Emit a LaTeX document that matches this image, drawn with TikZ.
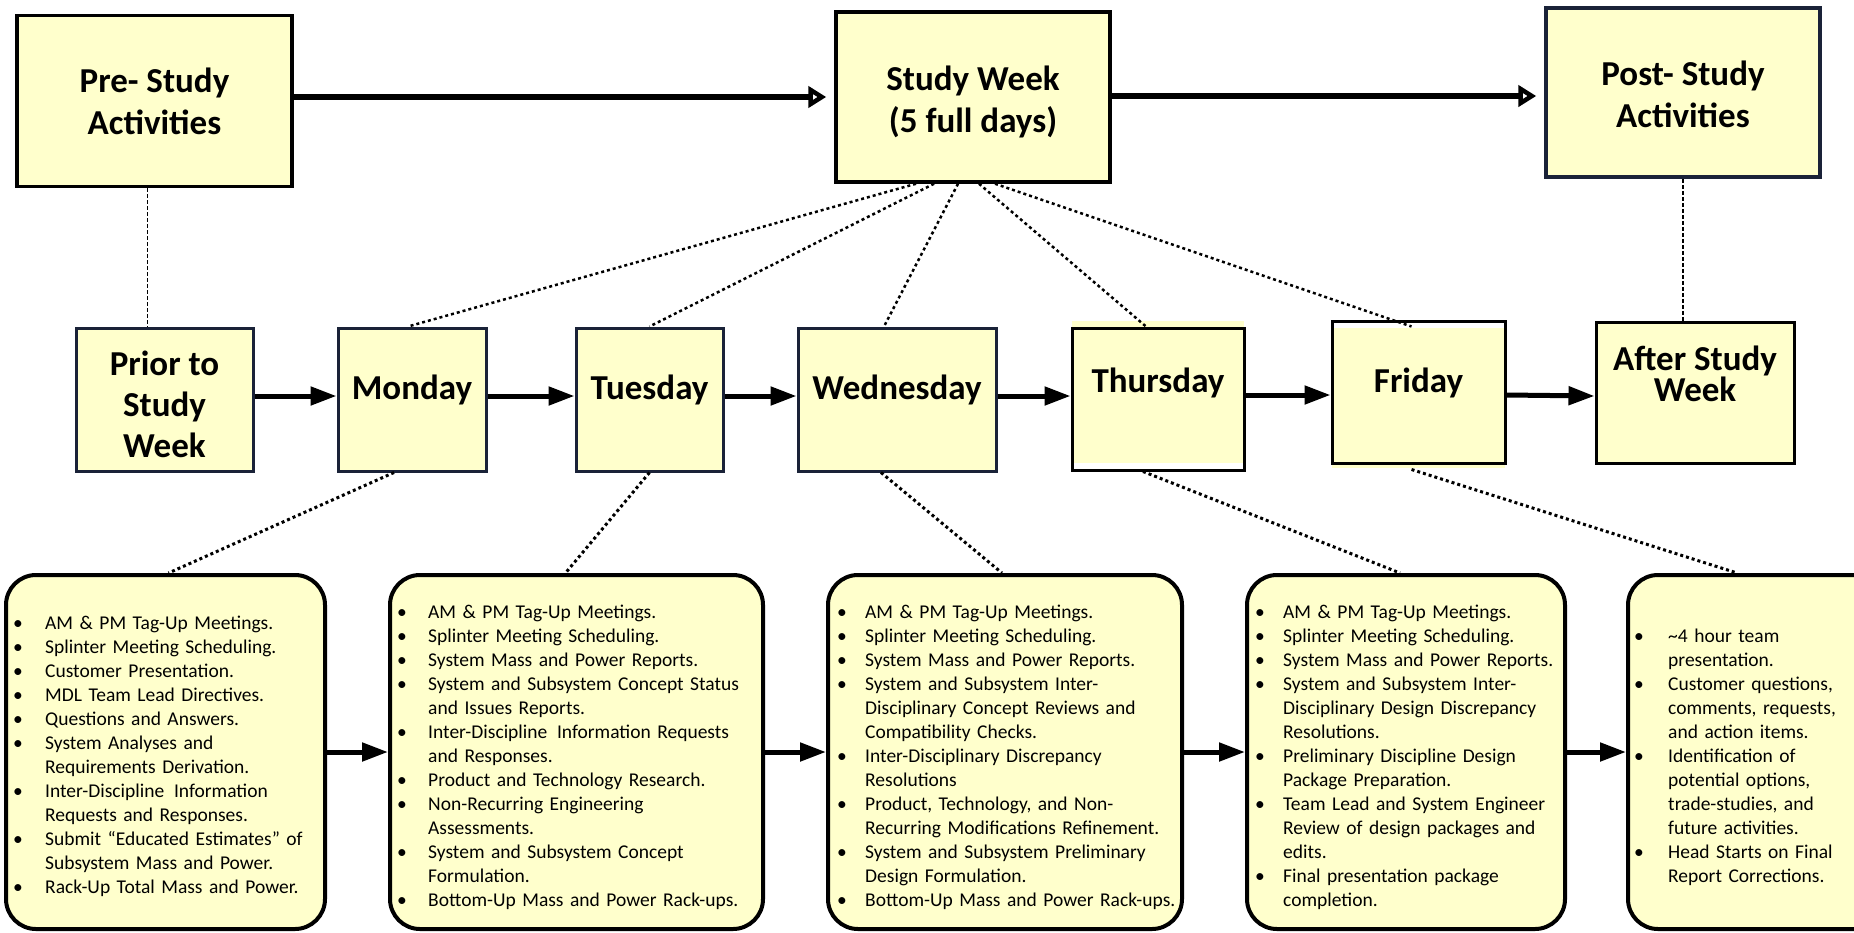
\documentclass[tikz,border=0pt]{standalone}
\usepackage{fontspec}
\setmainfont{Carlito}
\usetikzlibrary{arrows.meta}
\definecolor{boxfill}{RGB}{255,255,204}
\definecolor{edgenavy}{RGB}{26,34,56}
% bullet list item with a hanging indent of \bulind; \nl breaks a line inside an item
\newlength{\bulind}
\newcommand{\bitem}[1]{\par\hangindent=\bulind\hangafter=1\noindent\makebox[\bulind][l]{\textbullet}#1}
\newcommand{\nl}{\hfil\break}

\begin{document}
\begin{tikzpicture}[x=1pt,y=-1pt,
  phasebox/.style={draw=black, line width=3.5pt, fill=boxfill, inner sep=0pt},
  daybox/.style={draw=black, line width=3pt, fill=boxfill, inner sep=0pt},
  listbox/.style={draw=black, line width=4pt, fill=boxfill, rounded corners=30pt, inner sep=0pt},
  title/.style={font=\fontsize{35}{42}\selectfont\bfseries, align=center, inner sep=0pt},
  listtext/.style={anchor=west, inner sep=0pt, text width=380pt, align=left,
                   font=\fontsize{19.5}{24}\selectfont},
  flow/.style={line width=5pt, -{Triangle[length=26pt,width=18pt]}},
  bigflow/.style={line width=6.5pt, shorten >=8pt,
                  -{Triangle[open,length=18pt,width=21pt,line width=4.5pt]}},
  fan/.style={line width=2.5pt, dash pattern=on 3pt off 3pt},
  link/.style={line width=1.5pt, dash pattern=on 4pt off 2pt}]
\useasboundingbox (0,0) rectangle (1854,932);
\clip (0,0) rectangle (1854,932);

% ---- phases ----
\node[phasebox, minimum width=275pt, minimum height=171pt] (pre)  at (154.5,101) {};
\node[phasebox, minimum width=274pt, minimum height=170pt] (sw)   at (973,97) {};
\node[phasebox, draw=edgenavy, minimum width=274pt, minimum height=169pt] (post) at (1683,92.5) {};
\node[title] (pre-t)  at (154.5,101.5) {Pre- Study\\Activities};
\node[title] (sw-t)   at (973,101.5)   {Study Week\\(5 full days)};
\node[title] (post-t) at (1683,94)     {Post- Study\\Activities};

% ---- days ----
\fill[boxfill] (1072,321) rectangle (1244,463);
\fill[boxfill] (1332,328) rectangle (1505,468);
\node[daybox, draw=edgenavy, minimum width=177pt, minimum height=143pt] (prior) at (164.5,399.5) {};
\node[daybox, draw=edgenavy, minimum width=148pt, minimum height=143pt] (mon)   at (412,399.5) {};
\node[daybox, draw=edgenavy, minimum width=147pt, minimum height=143pt] (tue)   at (649.5,399.5) {};
\node[daybox, draw=edgenavy, minimum width=198pt, minimum height=143pt] (wed)   at (897,399.5) {};
\node[daybox, fill=none, minimum width=172pt, minimum height=142pt] (thu)   at (1158,399) {};
\node[daybox, fill=none, minimum width=173pt, minimum height=142pt] (fri)   at (1418.5,392) {};
\node[daybox, minimum width=198pt, minimum height=141pt] (after) at (1695,392.5) {};
\node[title, font=\fontsize{35}{41}\selectfont\bfseries] (prior-t) at (164.5,404) {Prior to\\Study\\Week};
\node[title] (mon-t) at (412,390) {Monday};
\node[title] (tue-t) at (649.5,390) {Tuesday};
\node[title] (wed-t) at (897,390) {Wednesday};
\node[title] (thu-t) at (1158,383) {Thursday};
\node[title] (fri-t) at (1418.5,383) {Friday};
\node[title, font=\fontsize{35}{31}\selectfont\bfseries] (after-t) at (1695,374) {After Study\\Week};

% ---- daily activity lists ----
\node[listbox, minimum width=319pt, minimum height=354pt] (l1) at (165.5,752) {};
\node[listbox, minimum width=373pt, minimum height=354pt] (l2) at (576.5,752) {};
\node[listbox, minimum width=354pt, minimum height=354pt] (l3) at (1005,752) {};
\node[listbox, minimum width=318pt, minimum height=354pt] (l4) at (1406,752) {};
\node[listbox, minimum width=272pt, minimum height=354pt] (l5) at (1764,752) {};

\node[listtext] (l1-t) at (13,751) {\setlength{\bulind}{32pt}%
\bitem{AM \& PM Tag-Up Meetings.}
\bitem{Splinter Meeting Scheduling.}
\bitem{Customer Presentation.}
\bitem{MDL Team Lead Directives.}
\bitem{Questions and Answers.}
\bitem{System Analyses and\nl Requirements Derivation.}
\bitem{Inter-Discipline\enspace Information\nl Requests and Responses.}
\bitem{Submit “Educated Estimates” of\nl Subsystem Mass and Power.}
\bitem{Rack-Up Total Mass and Power.}\par};

\node[listtext] (l2-t) at (397,752) {\setlength{\bulind}{31pt}%
\bitem{AM \& PM Tag-Up Meetings.}
\bitem{Splinter Meeting Scheduling.}
\bitem{System Mass and Power Reports.}
\bitem{System and Subsystem Concept Status\nl and Issues Reports.}
\bitem{Inter-Discipline\enspace Information Requests\nl and Responses.}
\bitem{Product and Technology Research.}
\bitem{Non-Recurring Engineering\nl Assessments.}
\bitem{System and Subsystem Concept\nl Formulation.}
\bitem{Bottom-Up Mass and Power Rack-ups.}\par};

\node[listtext] (l3-t) at (837,752) {\setlength{\bulind}{28pt}%
\bitem{AM \& PM Tag-Up Meetings.}
\bitem{Splinter Meeting Scheduling.}
\bitem{System Mass and Power Reports.}
\bitem{System and Subsystem Inter-\nl Disciplinary Concept Reviews and\nl Compatibility Checks.}
\bitem{Inter-Disciplinary Discrepancy\nl Resolutions}
\bitem{Product, Technology, and Non-\nl Recurring Modifications Refinement.}
\bitem{System and Subsystem Preliminary\nl Design Formulation.}
\bitem{Bottom-Up Mass and Power Rack-ups.}\par};

\node[listtext] (l4-t) at (1255,752) {\setlength{\bulind}{28pt}%
\bitem{AM \& PM Tag-Up Meetings.}
\bitem{Splinter Meeting Scheduling.}
\bitem{System Mass and Power Reports.}
\bitem{System and Subsystem Inter-\nl Disciplinary Design Discrepancy\nl Resolutions.}
\bitem{Preliminary Discipline Design\nl Package Preparation.}
\bitem{Team Lead and System Engineer\nl Review of design packages and\nl edits.}
\bitem{Final presentation package\nl completion.}\par};

\node[listtext] (l5-t) at (1634,752) {\setlength{\bulind}{34pt}%
\bitem{\textasciitilde4 hour team\nl presentation.}
\bitem{Customer questions,\nl comments, requests,\nl and action items.}
\bitem{Identification of\nl potential options,\nl trade-studies, and\nl future activities.}
\bitem{Head Starts on Final\nl Report Corrections.}\par};

% ---- phase flow ----
\draw[bigflow] ([yshift=4pt]pre.east) -- (sw.west);
\draw[bigflow] ([yshift=1pt]sw.east) -- ([yshift=-3.5pt]post.west);

% ---- day flow ----
\draw[flow] ([yshift=3.5pt]prior.east) -- ([yshift=3.5pt]mon.west);
\draw[flow] ([yshift=3.5pt]mon.east) -- ([yshift=3.5pt]tue.west);
\draw[flow] ([yshift=3.5pt]tue.east) -- ([yshift=3.5pt]wed.west);
\draw[flow] ([yshift=3.5pt]wed.east) -- ([yshift=3pt]thu.west);
\draw[flow] ([yshift=4pt]thu.east) -- ([yshift=-3pt]fri.west);
\draw[flow] ([yshift=-3pt]fri.east) -- ([yshift=-3.5pt]after.west);

% ---- list flow ----
\draw[flow] (l1.east) -- (l2.west);
\draw[flow] (l2.east) -- (l3.west);
\draw[flow] (l3.east) -- (l4.west);
\draw[flow] (l4.east) -- (l5.west);

% ---- before / after links ----
\draw[link] ([xshift=-7pt]pre.south) -- ([xshift=-17pt]prior.north);
\draw[link] (post.south) -- ([xshift=-12pt]after.north);

% ---- study week fans out into the days ----
\draw[fan] ([xshift=-57pt]sw.south) -- ([xshift=-4pt]mon.north);
\draw[fan] ([xshift=-39pt]sw.south) -- (tue.north);
\draw[fan] ([xshift=-15pt]sw.south) -- ([xshift=-13pt]wed.north);
\draw[fan] ([xshift=6pt]sw.south) -- ([xshift=-12pt]thu.north);
\draw[fan] ([xshift=22pt]sw.south) -- ([xshift=-7pt,yshift=-7pt]fri.north);

% ---- each day to its activity list ----
\draw[fan, line width=3pt] ([xshift=-18pt]mon.south) -- ([xshift=3pt]l1.north);
\draw[fan, line width=3pt] (tue.south) -- ([xshift=-11pt]l2.north);
\draw[fan, line width=3pt] ([xshift=-16pt]wed.south) -- ([xshift=-3pt]l3.north);
\draw[fan, line width=3pt] ([xshift=-15pt]thu.south) -- ([xshift=-6pt]l4.north);
\draw[fan, line width=3pt] ([xshift=-7pt,yshift=-5pt]fri.south) -- ([xshift=-27pt]l5.north);
\end{tikzpicture}
\end{document}
